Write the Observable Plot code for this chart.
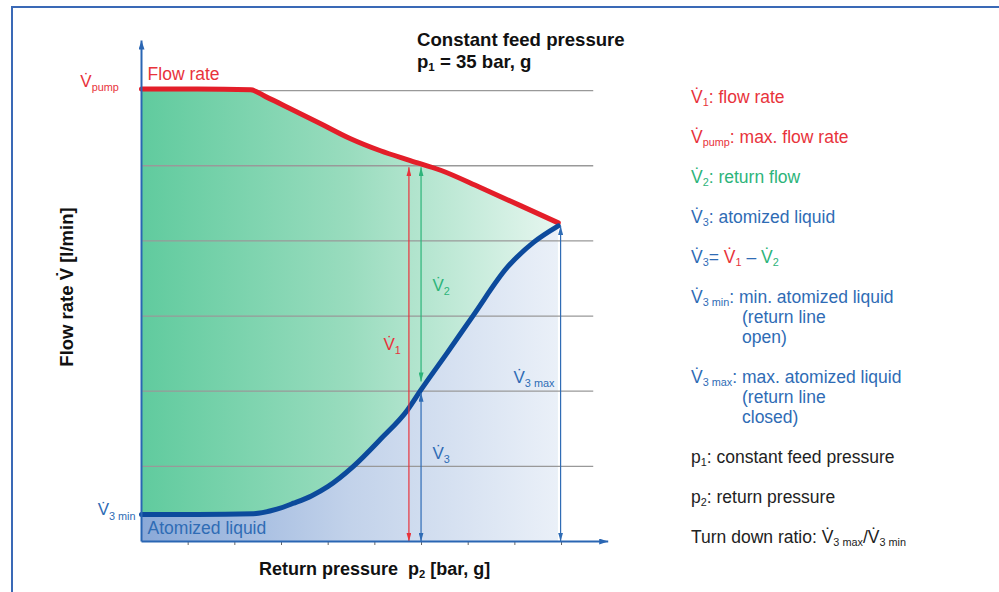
<!DOCTYPE html>
<html><head><meta charset="utf-8">
<script src="https://cdn.jsdelivr.net/npm/d3@7"></script>
<script src="https://cdn.jsdelivr.net/npm/@observablehq/plot@0.6"></script>
<style>
body{margin:0;background:#fff;}
#wrap{position:relative;width:999px;height:592px;overflow:hidden;font-family:"Liberation Sans",Arial,sans-serif;background:#fff;}
#wrap svg{position:absolute;left:0;top:0;}
.frame{position:absolute;left:11px;top:6px;right:-10px;bottom:-10px;border-left:2px solid #3a69b6;border-top:2px solid #3a69b6;}
.t{position:absolute;white-space:pre;line-height:20px;}
.t sub{font-size:0.62em;vertical-align:-0.3em;line-height:0;}
</style></head><body><div id="wrap"></div>
<script>
// ---------- data ----------
const xTicks = [1, 2, 3, 4, 5, 6, 7, 8, 9];
const gridY = [1, 2, 3, 4, 5, 6];
const gridEnd = 9.69;
const xMax = 10;
const yMax = 6.667;

// flow rate V1 (red curve)
const flowX = [0, 1.2, 2.34, 2.66, 3.19, 3.84, 4.48, 5.12, 5.76, 6.41, 7.26, 8.12, 8.93];
const flowY = [6.02, 6.02, 6.01, 5.92, 5.76, 5.56, 5.36, 5.20, 5.07, 4.94, 4.71, 4.47, 4.24];
// atomized liquid V3 (blue curve)
const atomX = [0, 1.2, 2.40, 2.90, 3.26, 3.65, 3.99, 4.54, 5.12, 5.70, 5.98, 6.55, 7.11, 7.84, 8.40, 8.93];
const atomY = [0.36, 0.36, 0.37, 0.43, 0.51, 0.61, 0.73, 1.00, 1.36, 1.75, 2.01, 2.51, 3.01, 3.65, 3.98, 4.20];

// dimension arrows
const dimX = [5.73, 5.99, 5.99, 8.98];
const dimFrom = [0, 2.13, 0, 0];
const dimTo = [4.98, 4.98, 1.98, 4.20];
const dimKind = ["flow", "return", "atomized", "atomized"];

// annotations inside the chart
const annText = ["Flow rate", "Atomized liquid"];
const annTextX = [0.13, 0.13];
const annTextY = [6.146, 0.106];
const annTextKind = ["flow", "atomized"];

const symText = ["V\u0307_{pump}", "V\u0307_{3 min}", "V\u0307_{1}", "V\u0307_{2}", "V\u0307_{3}", "V\u0307_{3 max}"];
const symX = [-1.31, -0.94, 5.185, 6.235, 6.235, 7.971];
const symY = [6.05, 0.346, 2.554, 3.339, 1.104, 2.115];
const symKind = ["flow", "atomized", "flow", "return", "atomized", "atomized"];

const kinds = ["flow", "return", "atomized", "text"];
const kindColors = ["#e8333b", "#2db47a", "#2f6cb5", "#222222"];

// titles
const titleLines = ["Constant feed pressure", "p<sub>1</sub> = 35 bar, g"];
const xLabel = "Return pressure  p<sub>2</sub> [bar, g]";
const yLabel = "Flow rate V\u0307 [l/min]";

// legend rows: segments [text, subscript, kind], continuation lines
const legendRows = [
  {seg: [["V\u0307", "1", "flow"], [": flow rate", "", "flow"]], cont: []},
  {seg: [["V\u0307", "pump", "flow"], [": max. flow rate", "", "flow"]], cont: []},
  {seg: [["V\u0307", "2", "return"], [": return flow", "", "return"]], cont: []},
  {seg: [["V\u0307", "3", "atomized"], [": atomized liquid", "", "atomized"]], cont: []},
  {seg: [["V\u0307", "3", "atomized"], ["= ", "", "atomized"], ["V\u0307", "1", "flow"], [" \u2013 ", "", "atomized"], ["V\u0307", "2", "return"]], cont: []},
  {seg: [["V\u0307", "3 min", "atomized"], [": min. atomized liquid", "", "atomized"]], cont: ["(return line", "open)"]},
  {seg: [["V\u0307", "3 max", "atomized"], [": max. atomized liquid", "", "atomized"]], cont: ["(return line", "closed)"]},
  {seg: [["p", "1", "text"], [": constant feed pressure", "", "text"]], cont: []},
  {seg: [["p", "2", "text"], [": return pressure", "", "text"]], cont: []},
  {seg: [["Turn down ratio: V\u0307", "3 max", "text"], ["/V\u0307", "3 min", "text"]], cont: []}
];

// ---------- tables built from arrays ----------
const flow = flowX.map((x, i) => ({x, y: flowY[i]}));
const atom = atomX.map((x, i) => ({x, y: atomY[i]}));
const dims = dimX.map((x, i) => ({x, y1: dimFrom[i], y2: dimTo[i], kind: dimKind[i]}));
const anns = annText.map((t, i) => ({t, x: annTextX[i], y: annTextY[i], kind: annTextKind[i]}));
const syms = symText.map((t, i) => ({t, x: symX[i], y: symY[i], kind: symKind[i]}));
const axes = [{x1: 0, y1: 0, x2: xMax, y2: 0}, {x1: 0, y1: 0, x2: 0, y2: yMax}];
const colorOf = k => kindColors[kinds.indexOf(k)];

const svg = Plot.plot({
  width: 999,
  height: 592,
  marginLeft: 141,
  marginRight: 391.3,
  marginTop: 40,
  marginBottom: 51,
  style: {background: "transparent", overflow: "visible", color: "#666", fontFamily: "Liberation Sans, Arial, sans-serif"},
  x: {domain: [0, xMax], ticks: xTicks, tickSize: 4, tickFormat: () => "", label: null},
  y: {domain: [0, yMax], axis: null},
  color: {domain: kinds, range: kindColors},
  marks: [
    Plot.areaY(flow, {x: "x", y: "y", fill: "url(#gGreen)", curve: "monotone-x"}),
    Plot.areaY(atom, {x: "x", y: "y", fill: "url(#gBlue)", curve: "monotone-x"}),
    Plot.ruleY(gridY, {x1: 0, x2: gridEnd, stroke: "#999", strokeWidth: 1.3}),
    Plot.line(flow, {x: "x", y: "y", stroke: "#e31e29", strokeWidth: 5, curve: "monotone-x"}),
    Plot.line(atom, {x: "x", y: "y", stroke: "#0c4a9c", strokeWidth: 5, curve: "monotone-x"}),
    Plot.link(dims, {x1: "x", x2: "x", y1: "y1", y2: "y2", stroke: "kind", strokeWidth: 1.2, ariaDescription: "dim"}),
    Plot.link(axes, {x1: "x1", y1: "y1", x2: "x2", y2: "y2", stroke: "#2a66b3", strokeWidth: 2, ariaDescription: "axis"}),
    Plot.text(anns, {x: "x", y: "y", text: "t", fill: "kind", fontSize: 17.5, textAnchor: "start", lineAnchor: "bottom"}),
    Plot.text(syms, {x: "x", y: "y", text: "t", fill: "kind", fontSize: 17, textAnchor: "start", lineAnchor: "bottom", ariaDescription: "sym"})
  ]
});

// gradients + arrowheads
const root = d3.select(svg);
const defs = root.insert("defs", ":first-child");
function grad(id, stops) {
  const g = defs.append("linearGradient").attr("id", id).attr("x1", 0).attr("x2", 1).attr("y1", 0).attr("y2", 0);
  stops.forEach(([o, c]) => g.append("stop").attr("offset", o).attr("stop-color", c));
}
grad("gGreen", [[0, "#60cb9e"], [0.5, "#99dcbe"], [1, "#e6f6ef"]]);
grad("gBlue", [[0, "#8aa9d8"], [0.5, "#c2d2ea"], [1, "#eaf0f8"]]);

function marker(color, len, wid) {
  const id = "ah" + color.replace(/[^a-z0-9]/gi, "") + len;
  if (!defs.select("#" + id).node()) {
    defs.append("marker").attr("id", id)
      .attr("viewBox", `0 0 ${len} ${wid}`).attr("refX", len).attr("refY", wid / 2)
      .attr("markerWidth", len).attr("markerHeight", wid)
      .attr("markerUnits", "userSpaceOnUse").attr("orient", "auto-start-reverse")
      .append("path").attr("d", `M0,0L${len},${wid / 2}L0,${wid}Z`).attr("fill", color);
  }
  return `url(#${id})`;
}
root.selectAll('g[aria-description="dim"] path').each(function () {
  const c = this.getAttribute("stroke") || this.parentNode.getAttribute("stroke");
  const m = marker(c, 9, 5);
  d3.select(this).attr("marker-start", m).attr("marker-end", m);
});
root.selectAll('g[aria-description="axis"] path').each(function () {
  const c = this.getAttribute("stroke") || this.parentNode.getAttribute("stroke");
  d3.select(this).attr("marker-end", marker(c, 9, 6));
});
// subscripts in symbol labels
root.selectAll('g[aria-description="sym"] text').each(function () {
  const s = this.textContent;
  const m = s.match(/^(.*)_\{(.*)\}$/);
  if (!m) return;
  this.textContent = "";
  const t = d3.select(this);
  t.append("tspan").text(m[1]);
  t.append("tspan").attr("font-size", "0.64em").attr("dy", 4.5).text(m[2]);
});

// ---------- layout ----------
const wrap = document.getElementById("wrap");
wrap.appendChild(svg);
const frame = document.createElement("div");
frame.className = "frame";
wrap.appendChild(frame);

function baseOff(fs) { return (20 - 1.149 * fs) / 2 + 0.905 * fs; }
function place(html, x, baseline, fs, extra) {
  const d = document.createElement("div");
  d.className = "t";
  d.style.left = x + "px";
  d.style.top = (baseline - baseOff(fs)) + "px";
  d.style.fontSize = fs + "px";
  Object.assign(d.style, extra || {});
  d.innerHTML = html;
  wrap.appendChild(d);
  return d;
}
place(titleLines[0], 417, 46, 18.6, {fontWeight: "bold", color: "#111"});
place(titleLines[1], 417, 68, 18.6, {fontWeight: "bold", color: "#111"});
place(xLabel, 259, 575, 18, {fontWeight: "bold", color: "#111"});
// rotated y label (center at 66.6, 287)
const yl = document.createElement("div");
yl.className = "t";
Object.assign(yl.style, {left: (66.6 - 150) + "px", top: (287 - 10) + "px", width: "300px", height: "20px",
  textAlign: "center", fontSize: "18.5px", fontWeight: "bold", color: "#111", transform: "rotate(-90deg)"});
yl.textContent = yLabel;
wrap.appendChild(yl);

// legend
let base = 103;
legendRows.forEach(row => {
  const html = row.seg.map(([t, s, k]) =>
    `<span style="color:${colorOf(k)}">${t}${s ? `<sub>${s}</sub>` : ""}</span>`).join("");
  place(html, 691, base, 17.5);
  const col = colorOf(row.seg[0][2]);
  row.cont.forEach(c => { base += 20; place(c, 742, base, 17.5, {color: col}); });
  base += 40;
});
</script></body></html>
